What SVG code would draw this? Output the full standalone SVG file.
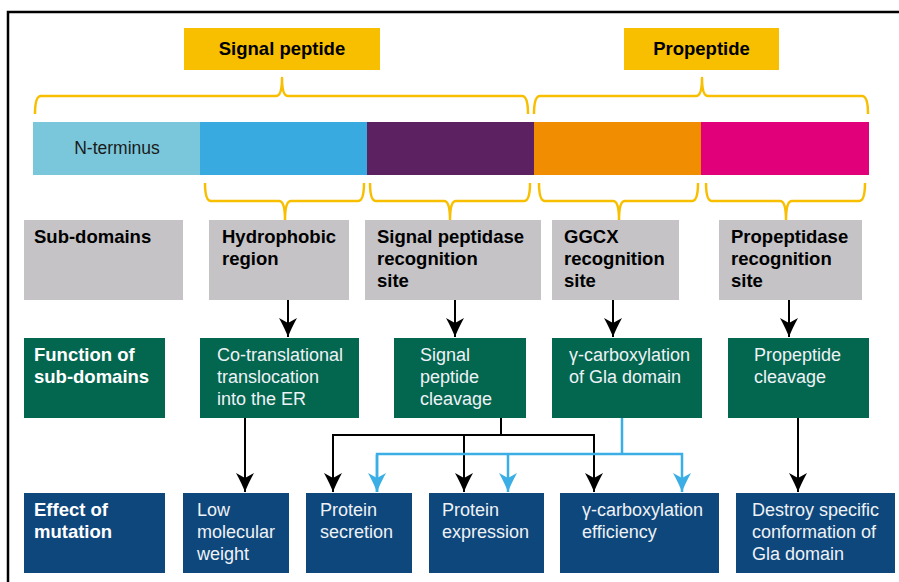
<svg xmlns="http://www.w3.org/2000/svg" width="899" height="582" viewBox="0 0 899 582">
<style>
text{font-family:"Liberation Sans",Arial,Helvetica,sans-serif}
.b{font-weight:bold;font-size:18.5px;fill:#000}
.bw{font-weight:bold;font-size:18.5px;fill:#fff}
.r{font-size:18px;fill:#EEF2F6}
.grey{fill:#C5C3C6}
.green{fill:#03664F}
.blue{fill:#0E477B}
.yel{fill:#F7BF00}
.brace{fill:none;stroke:#F7BF00;stroke-width:2.5;stroke-linejoin:round}
.k{fill:none;stroke:#000;stroke-width:2}
.c{fill:none;stroke:#3AAEE5;stroke-width:2.5}
</style>
<defs>
<marker id="ak" markerUnits="userSpaceOnUse" viewBox="-1 -10 21 20" markerWidth="21" markerHeight="20" refX="19" refY="0" orient="auto">
<path d="M0,-9 Q11,-3 19,0 Q11,3 0,9 L5,0 Z" fill="#000"/>
</marker>
<marker id="ac" markerUnits="userSpaceOnUse" viewBox="-1 -10 21 20" markerWidth="21" markerHeight="20" refX="19" refY="0" orient="auto">
<path d="M0,-9 Q11,-3 19,0 Q11,3 0,9 L5,0 Z" fill="#3AAEE5"/>
</marker>
</defs>
<rect width="899" height="582" fill="#fff"/>
<path d="M8,582 L8,12 L899,12" fill="none" stroke="#000" stroke-width="2.5"/>

<g id="signal-peptide">
<rect class="yel" x="184" y="28" width="196" height="42"/>
<text class="b" x="282" y="55" text-anchor="middle">Signal peptide</text>
</g>
<g id="propeptide">
<rect class="yel" x="624" y="28" width="155" height="42"/>
<text class="b" x="701.5" y="55" text-anchor="middle">Propeptide</text>
</g>

<g id="braces">
<path class="brace" d="M35,114 Q35,96 41,96 L276,96 Q282,96 282,78 Q282,96 288,96 L522,96 Q528,96 528,114"/>
<path class="brace" d="M534,114 Q534,96 540,96 L696,96 Q702,96 702,78 Q702,96 708,96 L862,96 Q868,96 868,114"/>
<path class="brace" d="M205,183 Q205,201 211,201 L279,201 Q285,201 285,220 Q285,201 291,201 L358,201 Q364,201 364,183"/>
<path class="brace" d="M370,183 Q370,201 376,201 L444,201 Q450,201 450,220 Q450,201 456,201 L524,201 Q530,201 530,183"/>
<path class="brace" d="M539,183 Q539,201 545,201 L613,201 Q619,201 619,220 Q619,201 625,201 L692,201 Q698,201 698,183"/>
<path class="brace" d="M706,183 Q706,201 712,201 L780,201 Q786,201 786,220 Q786,201 792,201 L859,201 Q865,201 865,183"/>
</g>

<g id="bar">
<rect x="33" y="122" width="167" height="53" fill="#7AC7DB"/>
<rect x="200" y="122" width="167" height="53" fill="#38AAE0"/>
<rect x="367" y="122" width="167" height="53" fill="#5B2160"/>
<rect x="534" y="122" width="167" height="53" fill="#F08D00"/>
<rect x="701" y="122" width="168" height="53" fill="#E2007A"/>
<text x="117" y="154" text-anchor="middle" font-size="17.5" fill="#1a1a1a">N-terminus</text>
</g>

<g id="sub-domains-label">
<rect class="grey" x="24" y="220" width="159" height="80"/>
<text class="b" x="34" y="243">Sub-domains</text>
</g>
<g id="hydrophobic">
<rect class="grey" x="209" y="220" width="140" height="80"/>
<text class="b" x="222" y="243">Hydrophobic</text>
<text class="b" x="222" y="265">region</text>
</g>
<g id="sp-recognition">
<rect class="grey" x="365" y="220" width="176" height="80"/>
<text class="b" x="377" y="243">Signal peptidase</text>
<text class="b" x="377" y="265">recognition</text>
<text class="b" x="377" y="287">site</text>
</g>
<g id="ggcx-recognition">
<rect class="grey" x="552" y="220" width="127" height="80"/>
<text class="b" x="564" y="243">GGCX</text>
<text class="b" x="564" y="265">recognition</text>
<text class="b" x="564" y="287">site</text>
</g>
<g id="pp-recognition">
<rect class="grey" x="719" y="220" width="143" height="80"/>
<text class="b" x="731" y="243">Propeptidase</text>
<text class="b" x="731" y="265">recognition</text>
<text class="b" x="731" y="287">site</text>
</g>

<g id="function-label">
<rect class="green" x="24" y="338" width="141" height="80"/>
<text class="bw" x="34" y="361">Function of</text>
<text class="bw" x="34" y="383">sub-domains</text>
</g>
<g id="cotranslational">
<rect class="green" x="200" y="338" width="159" height="80"/>
<text class="r" x="217" y="361">Co-translational</text>
<text class="r" x="217" y="383">translocation</text>
<text class="r" x="217" y="405">into the ER</text>
</g>
<g id="sp-cleavage">
<rect class="green" x="394" y="338" width="132" height="80"/>
<text class="r" x="420" y="361">Signal</text>
<text class="r" x="420" y="383">peptide</text>
<text class="r" x="420" y="405">cleavage</text>
</g>
<g id="gamma-gla">
<rect class="green" x="552" y="338" width="150" height="80"/>
<text class="r" x="569" y="361">γ-carboxylation</text>
<text class="r" x="569" y="383">of Gla domain</text>
</g>
<g id="pp-cleavage">
<rect class="green" x="728" y="338" width="141" height="80"/>
<text class="r" x="754" y="361">Propeptide</text>
<text class="r" x="754" y="383">cleavage</text>
</g>

<g id="effect-label">
<rect class="blue" x="24" y="493" width="141" height="80"/>
<text class="bw" x="34" y="516">Effect of</text>
<text class="bw" x="34" y="538">mutation</text>
</g>
<g id="low-mw">
<rect class="blue" x="183" y="493" width="106" height="80"/>
<text class="r" x="197" y="516">Low</text>
<text class="r" x="197" y="538">molecular</text>
<text class="r" x="197" y="560">weight</text>
</g>
<g id="protein-secretion">
<rect class="blue" x="306" y="493" width="106" height="80"/>
<text class="r" x="320" y="516">Protein</text>
<text class="r" x="320" y="538">secretion</text>
</g>
<g id="protein-expression">
<rect class="blue" x="429" y="493" width="115" height="80"/>
<text class="r" x="442" y="516">Protein</text>
<text class="r" x="442" y="538">expression</text>
</g>
<g id="gamma-efficiency">
<rect class="blue" x="560" y="493" width="159" height="80"/>
<text class="r" x="582" y="516">γ-carboxylation</text>
<text class="r" x="582" y="538">efficiency</text>
</g>
<g id="destroy">
<rect class="blue" x="736" y="493" width="159" height="80"/>
<text class="r" x="752" y="516">Destroy specific</text>
<text class="r" x="752" y="538">conformation of</text>
<text class="r" x="752" y="560">Gla domain</text>
</g>

<g id="connectors">
<path class="k" d="M288,300 L288,337" marker-end="url(#ak)"/>
<path class="k" d="M455,300 L455,337" marker-end="url(#ak)"/>
<path class="k" d="M613,300 L613,337" marker-end="url(#ak)"/>
<path class="k" d="M789,300 L789,337" marker-end="url(#ak)"/>
<path class="k" d="M245,418 L245,492" marker-end="url(#ak)"/>
<path class="k" d="M798,418 L798,492" marker-end="url(#ak)"/>
<path class="k" d="M501,418 L501,435"/>
<path class="k" d="M333,492 L333,435 L594,435 L594,492" marker-end="url(#ak)"/>
<path class="k" d="M333,436 L333,492" marker-end="url(#ak)"/>
<path class="k" d="M464,435 L464,492" marker-end="url(#ak)"/>
<path class="c" d="M622,418 L622,454"/>
<path class="c" d="M377,492 L377,454 L682,454 L682,492" marker-end="url(#ac)"/>
<path class="c" d="M377,455 L377,492" marker-end="url(#ac)"/>
<path class="c" d="M508,454 L508,492" marker-end="url(#ac)"/>
</g>
</svg>
